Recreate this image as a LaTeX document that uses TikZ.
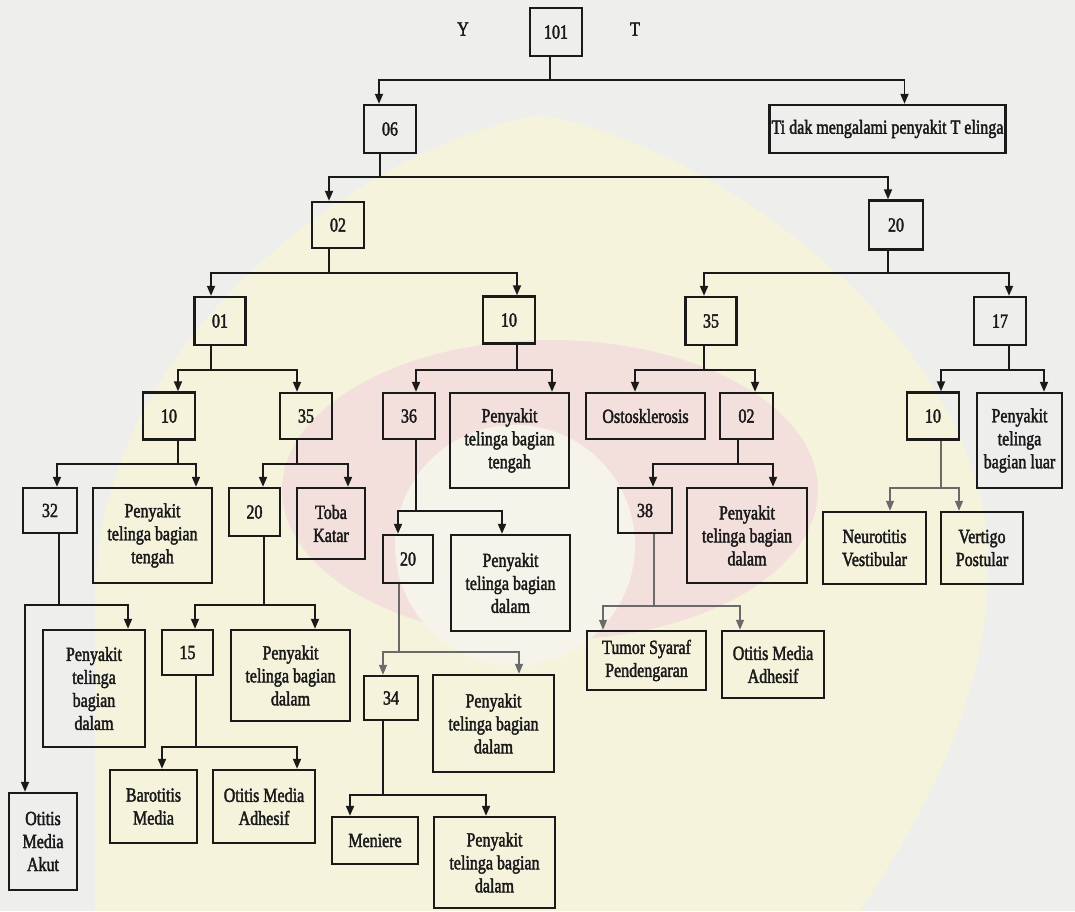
\documentclass[tikz,border=0pt]{standalone}
\usepackage{fontspec}
\setmainfont{Liberation Serif}[FakeStretch=0.8,FakeBold=2]
\usetikzlibrary{arrows.meta}
\definecolor{bgc}{HTML}{EEEEED}
\definecolor{creamc}{HTML}{F6F3DD}
\definecolor{pinkc}{HTML}{F3DFDC}
\definecolor{innerc}{HTML}{F6F4EA}
\definecolor{inkc}{HTML}{1A1A1A}
\newcommand\fork[8][]{%
  \coordinate (fkP) at ([xshift=#3pt]#2.south);
  \coordinate (fkB) at (0,#4);
  \coordinate (fkA) at ([xshift=#6pt]#5.north);
  \coordinate (fkC) at ([xshift=#8pt]#7.north);
  \draw[ln,#1] (fkP) -- (fkP |- fkB);
  \draw[ln,tips,#1] (fkA) |- (fkP |- fkB) -| (fkC);
}
\begin{document}
\begin{tikzpicture}[x=1pt,y=-1pt,
  bx/.style={draw=inkc, line width=2.4pt, inner sep=0pt, align=center, text=inkc,
    font=\fontsize{20}{23}\selectfont},
  sz/.style 2 args={minimum width=#1pt, minimum height=#2pt},
  ln/.style={draw=inkc, line width=1.8pt},
  faint/.style={draw=inkc!65, line width=1.2pt},
  tips/.style={{Triangle[length=10pt,width=8pt]}-{Triangle[length=10pt,width=8pt]}},
  lab/.style={text=inkc, font=\fontsize{20}{23}\selectfont}]
\useasboundingbox (0,0) rectangle (1075,911);
\fill[bgc] (0,0) rectangle (1075,911);
% faint watermark colours behind the chart
\fill[creamc] (95,911) -- (95,600) .. controls (95,330) and (380,140) .. (540,115)
  .. controls (700,140) and (985,330) .. (988,560)
  .. controls (990,700) and (920,820) .. (860,911) -- cycle;
\fill[pinkc] (550,490) ellipse [x radius=268pt, y radius=150pt];
\fill[innerc] (515,545) circle [radius=120pt];

% level 0-1
\node[lab] (ly) at (463,29) {Y};
\node[lab] (lt) at (635,29) {T};
\node[bx,sz={52}{48}] (n101) at (556,32) {101};
\node[bx,sz={52}{48}] (n06) at (390,129) {06};
\node[bx,sz={236}{48}] (tidak) at (887.5,129) {Ti dak mengalami penyakit T elinga};
% level 2
\node[bx,sz={52}{46}] (n02a) at (338,225) {02};
\node[bx,sz={54}{49}] (n20a) at (896,225) {20};
% level 3
\node[bx,sz={51}{48}] (n01) at (220,321) {01};
\node[bx,sz={52}{47}] (n10a) at (509,320) {10};
\node[bx,sz={51}{48}] (n35a) at (711,321) {35};
\node[bx,sz={52}{48}] (n17) at (1000,321) {17};
% level 4
\node[bx,sz={52}{47}] (n10b) at (169,416) {10};
\node[bx,sz={52}{46}] (n35b) at (306,416) {35};
\node[bx,sz={52}{46}] (n36) at (409,416) {36};
\node[bx,sz={119}{95}] (ptbt1) at (509.5,440.5) {Penyakit\\telinga bagian\\tengah};
\node[bx,sz={119}{46}] (osto) at (645.5,416) {Ostosklerosis};
\node[bx,sz={53}{46}] (n02b) at (746.5,416) {02};
\node[bx,sz={52}{47}] (n10c) at (933,416) {10};
\node[bx,sz={85}{95}] (ptbl) at (1019.5,440.5) {Penyakit\\telinga\\bagian luar};
% level 5
\node[bx,sz={54}{45}] (n32) at (50,510.5) {32};
\node[bx,sz={119}{95}] (ptbt2) at (152.5,535.5) {Penyakit\\telinga bagian\\tengah};
\node[bx,sz={51}{48}] (n20b) at (254.5,512) {20};
\node[bx,sz={68}{71}] (toba) at (331,523.5) {Toba\\Katar};
\node[bx,sz={50}{48}] (n20c) at (408,559) {20};
\node[bx,sz={119}{96}] (ptbd1) at (510.5,583) {Penyakit\\telinga bagian\\dalam};
\node[bx,sz={54}{45}] (n38) at (645,510.5) {38};
\node[bx,sz={120}{95}] (ptbd2) at (747,535.5) {Penyakit\\telinga bagian\\dalam};
\node[bx,sz={103}{72}] (neuro) at (874.5,548) {Neurotitis\\Vestibular};
\node[bx,sz={82}{72}] (vert) at (982,548) {Vertigo\\Postular};
% level 6
\node[bx,sz={102}{117}] (ptbd3) at (94,688.5) {Penyakit\\telinga\\bagian\\dalam};
\node[bx,sz={68}{97}] (oma1) at (43,841.5) {Otitis\\Media\\Akut};
\node[bx,sz={51}{45}] (n15) at (187.5,652.5) {15};
\node[bx,sz={119}{91}] (ptbd4) at (290.5,675.5) {Penyakit\\telinga bagian\\dalam};
\node[bx,sz={54}{44}] (n34) at (391,698) {34};
\node[bx,sz={121}{97}] (ptbd5) at (493.5,723.5) {Penyakit\\telinga bagian\\dalam};
\node[bx,sz={119}{59}] (tumor) at (646.5,660.5) {Tumor Syaraf\\Pendengaran};
\node[bx,sz={102}{67}] (oma2) at (773,664.5) {Otitis Media\\Adhesif};
% level 7
\node[bx,sz={87}{73}] (baro) at (153.5,806.5) {Barotitis\\Media};
\node[bx,sz={102}{73}] (oma3) at (264,806.5) {Otitis Media\\Adhesif};
\node[bx,sz={86}{47}] (meni) at (375,840.5) {Meniere};
\node[bx,sz={121}{91}] (ptbd6) at (494.5,862.5) {Penyakit\\telinga bagian\\dalam};

% connectors
\fork{n101}{-6}{80}{n06}{-11}{tidak}{17}
\fork{n06}{-10}{177}{n02a}{-9}{n20a}{-8}
\fork{n02a}{-9}{273}{n01}{-9}{n10a}{8}
\fork{n20a}{-8}{273}{n35a}{-7}{n17}{9}
\fork{n01}{-9}{370}{n10b}{9}{n35b}{-9}
\fork{n10a}{8}{370}{n36}{7}{ptbt1}{42.5}
\fork{n35a}{-7}{370}{osto}{-10.5}{n02b}{8.5}
\fork{n17}{9}{370}{n10c}{8}{ptbl}{24.5}
\fork{n10b}{9}{464}{n32}{7}{ptbt2}{43.5}
\fork{n35b}{-9}{464}{n20b}{8.5}{toba}{17}
\fork{n36}{7}{511}{n20c}{-10}{ptbd1}{-8.5}
\fork{n02b}{-8.5}{464}{n38}{8}{ptbd2}{26}
\fork[faint]{n10c}{8}{488}{neuro}{15.5}{vert}{-23}
\fork{n32}{9}{605}{oma1}{-18}{ptbd3}{34}
\fork{n20b}{9.5}{605}{n15}{7.5}{ptbd4}{24.5}
\fork[faint]{n20c}{-9}{652}{n34}{-8}{ptbd5}{25.5}
\fork[faint]{n38}{9}{606}{tumor}{-43.5}{oma2}{-33}
\fork{n15}{8.5}{747}{baro}{8.5}{oma3}{33}
\fork{n34}{-8}{795}{meni}{-25}{ptbd6}{-8.5}
\end{tikzpicture}
\end{document}
